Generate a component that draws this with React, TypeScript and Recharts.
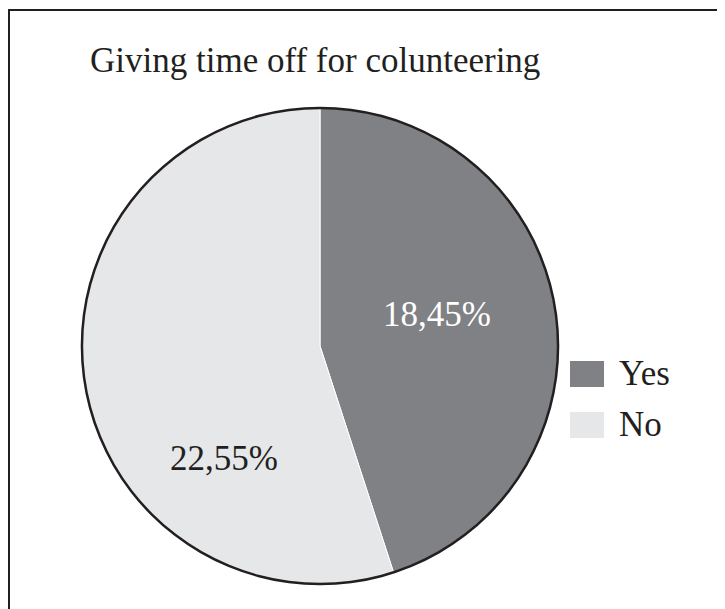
import React from 'react';
import { PieChart, Pie, Cell, Legend } from 'recharts';

const categories = ['Yes', 'No'];
const shares = [18.45, 22.55];
const labels = ['18,45%', '22,55%'];
const colors = ['#808184', '#e6e7e8'];

const data = categories.map((name, i) => ({ name, value: shares[i] }));
const outline = [{ name: 'outline', value: 1 }];

const ink = '#231f20';
const serif = '"Liberation Serif", "Times New Roman", serif';

// label offsets from the pie centre
const labelOffsets = [
  { dx: 117, dy: -32 },
  { dx: -96, dy: 112 },
];

const renderLabel = (props: any) => {
  const { cx, cy, index } = props;
  const off = labelOffsets[index];
  return (
    <text
      x={cx + off.dx}
      y={cy + off.dy}
      textAnchor="middle"
      dominantBaseline="central"
      fill={index === 0 ? '#ffffff' : ink}
      fontFamily={serif}
      fontSize={35}
    >
      {labels[index]}
    </text>
  );
};

const renderLegend = () => (
  <div style={{ fontFamily: serif, fontSize: 35, color: ink }}>
    {categories.map((c, i) => (
      <div key={c} style={{ display: 'flex', alignItems: 'center', height: 26, marginBottom: 25 }}>
        <div style={{ width: 34, height: 26, background: colors[i], marginRight: 15 }} />
        <span style={{ lineHeight: '26px' }}>{c}</span>
      </div>
    ))}
  </div>
);

export default function App() {
  return (
    <div style={{ position: 'relative', width: 717, height: 601 }}>
      <div
        style={{
          position: 'absolute', left: 0, top: 1, right: 0, bottom: 0,
          borderTop: `2.5px solid ${ink}`, borderLeft: `2.5px solid ${ink}`,
        }}
      />
      <div
        style={{
          position: 'absolute', left: 82, top: 35, fontFamily: serif,
          fontSize: 35, lineHeight: '35px', color: ink, whiteSpace: 'nowrap',
        }}
      >
        Giving time off for colunteering
      </div>
      <PieChart width={717} height={601} style={{ position: 'absolute', left: 0, top: 0 }}>
        <Pie
          data={data}
          dataKey="value"
          nameKey="name"
          cx={307}
          cy={333}
          outerRadius={238}
          startAngle={90}
          endAngle={-270}
          stroke="#ffffff"
          strokeWidth={1}
          label={renderLabel}
          labelLine={false}
          isAnimationActive={false}
        >
          {data.map((d, i) => (
            <Cell key={d.name} fill={colors[i]} />
          ))}
        </Pie>
        {/* black rim drawn as a thin ring */}
        <Pie
          data={outline}
          dataKey="value"
          cx={307}
          cy={333}
          innerRadius={236.8}
          outerRadius={239.3}
          startAngle={90}
          endAngle={-270}
          fill={ink}
          stroke="none"
          legendType="none"
          isAnimationActive={false}
        />
        <Legend
          content={renderLegend}
          wrapperStyle={{ left: 562, top: 353, width: 140 }}
        />
      </PieChart>
    </div>
  );
}
